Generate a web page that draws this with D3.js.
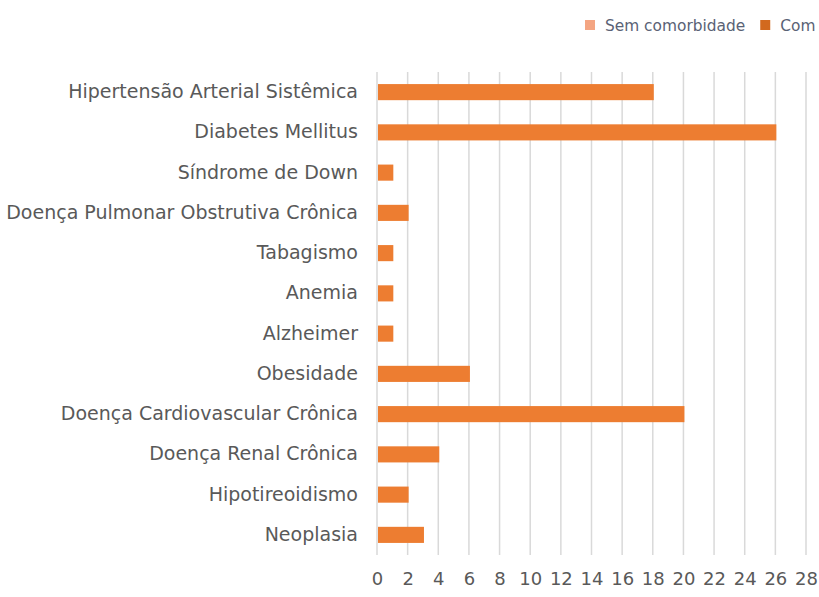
<!DOCTYPE html>
<html>
<head>
<meta charset="utf-8">
<script src="https://cdn.jsdelivr.net/npm/d3@7"></script>
<style>
  body { margin: 0; background: #fff; overflow: hidden; }
  svg { display: block; }
</style>
</head>
<body>
<div id="canvas"></div>
<script>
const categories = [
  "Hipertensão Arterial Sistêmica",
  "Diabetes Mellitus",
  "Síndrome de Down",
  "Doença Pulmonar Obstrutiva Crônica",
  "Tabagismo",
  "Anemia",
  "Alzheimer",
  "Obesidade",
  "Doença Cardiovascular Crônica",
  "Doença Renal Crônica",
  "Hipotireoidismo",
  "Neoplasia"
];
const comValues = [18, 26, 1, 2, 1, 1, 1, 6, 20, 4, 2, 3];
const xTicks = [0, 2, 4, 6, 8, 10, 12, 14, 16, 18, 20, 22, 24, 26, 28];
const legendLabels = ["Sem comorbidade", "Com comorbidade"];
const legendColors = ["#F4A582", "#D2691E"];

const width = 819, height = 597;
const margin = { top: 72, left: 377, bottom: 42, right: 13 };
const iwidth = width - margin.left - margin.right;
const iheight = height - margin.top - margin.bottom;

const svg = d3.select("#canvas").append("svg")
  .attr("width", width)
  .attr("height", height);

const g = svg.append("g").attr("transform", `translate(${margin.left},${margin.top})`);

const x = d3.scaleLinear().domain([0, 28]).range([0, iwidth]);
const y = d3.scaleBand().domain(categories).range([0, iheight]).paddingInner(0.6).paddingOuter(0.3);

// vertical gridlines
g.selectAll("line.grid").data(xTicks).enter().append("line")
  .attr("class", "grid")
  .attr("x1", d => x(d)).attr("x2", d => x(d))
  .attr("y1", 0).attr("y2", iheight)
  .attr("stroke", "#d9d9d9")
  .attr("stroke-width", 1.5);

g.selectAll("rect.bar").data(comValues).enter().append("rect")
  .attr("class", "bar")
  .attr("x", x(0) + 1)
  .attr("y", (d, i) => y(categories[i]))
  .attr("width", d => x(d) - x(0))
  .attr("height", y.bandwidth())
  .attr("fill", "#ED7D31");

// x axis labels
const xAxis = g.append("g")
  .attr("transform", `translate(0, ${iheight})`)
  .call(d3.axisBottom(x).tickValues(xTicks).tickSize(0).tickPadding(17));
xAxis.select(".domain").remove();
xAxis.selectAll("text")
  .attr("fill", "#595959")
  .style("font-family", "'DejaVu Sans', sans-serif")
  .style("font-size", "18px");

// y axis labels
const yAxis = g.append("g")
  .call(d3.axisLeft(y).tickSize(0).tickPadding(19));
yAxis.select(".domain").remove();
yAxis.selectAll("text")
  .attr("fill", "#595959")
  .style("font-family", "'DejaVu Sans', sans-serif")
  .style("font-size", "19px");

// legend
const legend = svg.append("g").attr("transform", "translate(585, 20)");
let lx = 0;
legendLabels.forEach((lab, i) => {
  const item = legend.append("g").attr("transform", `translate(${lx},0)`);
  item.append("rect").attr("width", 10).attr("height", 10).attr("fill", legendColors[i]);
  const t = item.append("text")
    .attr("x", 20).attr("y", 10.5)
    .attr("fill", "#5a6275")
    .style("font-family", "'DejaVu Sans', sans-serif")
    .style("font-size", "15.4px")
    .text(lab);
  lx += 20 + t.node().getComputedTextLength() + 15;
});
</script>
</body>
</html>
